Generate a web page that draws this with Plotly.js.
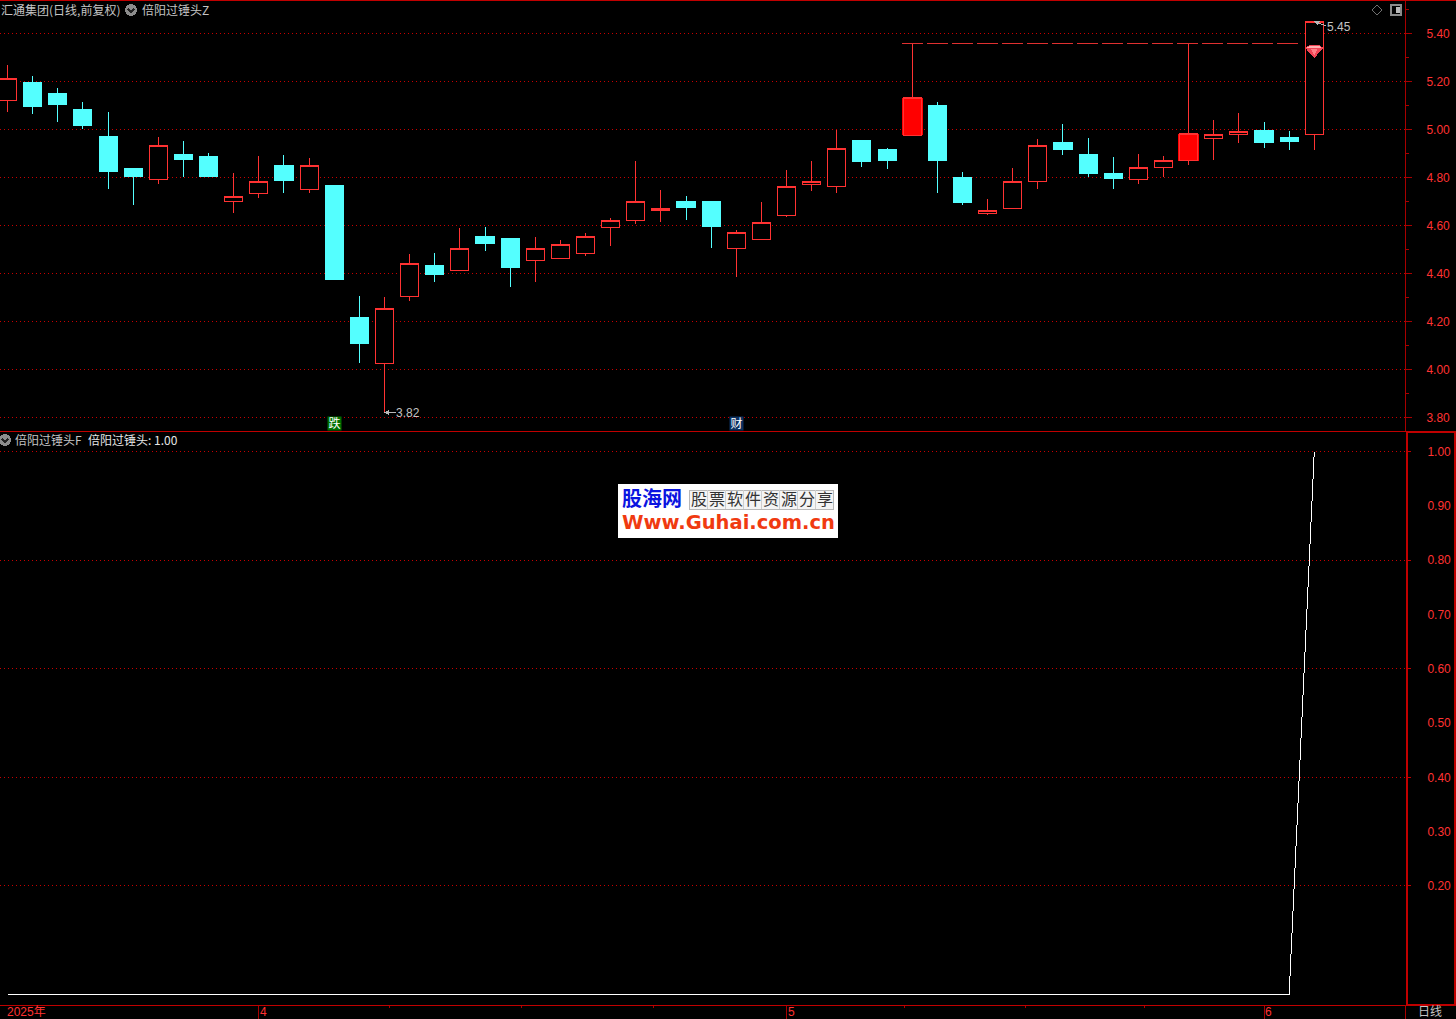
<!DOCTYPE html>
<html><head><meta charset="utf-8">
<script src="https://cdn.plot.ly/plotly-3.0.1.min.js"></script>
<style>html,body{margin:0;padding:0;background:#000;overflow:hidden}
.main-svg path{shape-rendering:crispEdges}
#chart{width:1456px;height:1019px}</style></head>
<body><div id="chart"></div>
<script>
const candleOpen=[5.121,5.193,5.151,5.081,4.972,4.835,4.792,4.893,4.885,4.70,4.733,4.851,4.75,4.764,4.214,4.025,4.304,4.434,4.412,4.555,4.543,4.454,4.462,4.483,4.591,4.621,4.662,4.701,4.701,4.504,4.541,4.642,4.770,4.761,4.952,4.914,4.976,5.101,4.801,4.649,4.670,4.782,4.943,4.893,4.814,4.790,4.840,4.868,4.9625,4.979,4.993,4.964,4.979];
const candleHigh=[5.268,5.222,5.172,5.114,5.072,4.835,4.968,4.951,4.901,4.818,4.889,4.893,4.881,4.764,4.305,4.301,4.48,4.484,4.589,4.593,4.543,4.551,4.539,4.568,4.63,4.868,4.747,4.722,4.701,4.58,4.697,4.831,4.868,4.997,4.952,4.922,5.358,5.114,4.822,4.710,4.839,4.960,5.022,4.964,4.885,4.897,4.889,5.358,5.039,5.068,5.031,4.993,5.45];
const candleLow=[5.074,5.065,5.032,5.003,4.753,4.686,4.774,4.803,4.803,4.653,4.715,4.736,4.736,4.373,4.028,3.82,4.286,4.365,4.412,4.494,4.344,4.365,4.462,4.473,4.514,4.607,4.615,4.623,4.507,4.386,4.541,4.636,4.745,4.736,4.843,4.835,4.976,4.736,4.685,4.645,4.670,4.753,4.893,4.803,4.751,4.772,4.801,4.851,4.872,4.943,4.922,4.914,4.914];
const candleClose=[5.213,5.094,5.103,5.015,4.824,4.803,4.933,4.874,4.803,4.721,4.783,4.786,4.85,4.373,4.107,4.254,4.441,4.394,4.504,4.523,4.423,4.504,4.521,4.554,4.621,4.70,4.671,4.673,4.594,4.571,4.612,4.763,4.783,4.921,4.864,4.872,5.131,4.872,4.693,4.663,4.783,4.933,4.914,4.814,4.793,4.842,4.871,4.981,4.979,4.992,4.943,4.951,5.45];
const filledCandles=[36,47];
const signalValues=[0,0,0,0,0,0,0,0,0,0,0,0,0,0,0,0,0,0,0,0,0,0,0,0,0,0,0,0,0,0,0,0,0,0,0,0,0,0,0,0,0,0,0,0,0,0,0,0,0,0,0,0,1];
const priceTicks=[3.8,4.0,4.2,4.4,4.6,4.8,5.0,5.2,5.4];
const priceTickText=['3.80','4.00','4.20','4.40','4.60','4.80','5.00','5.20','5.40'];
const signalTicks=[0.2,0.3,0.4,0.5,0.6,0.7,0.8,0.9,1.0];
const signalTickText=['0.20','0.30','0.40','0.50','0.60','0.70','0.80','0.90','1.00'];
const signalGridTicks=[0.2,0.4,0.6,0.8,1.0];
const monthTicks=[10,31,50];
const monthLabels=[[0,'2025年'],[10,'4'],[31,'5'],[50,'6']];
const weekTicks=[15.19,20.44,25.7,35.7,40.5,45.26];
const dashLevel=5.358, dashFrom=35.58, dashTo=51.44;
const gemIndex=52, gemPrice=5.326;

const W=1456,H=1019,AX=1405;
const px=x=>x/W, py=y=>1-y/H;
const RED='#ff3232',CYAN='#54ffff',DARK='#a80000',GRID='#c80000',TXT='#c4c4c4';
const FONT='Liberation Sans, sans-serif', CJK='"Noto Sans CJK SC", sans-serif', MIX='"Liberation Sans", "Noto Sans CJK SC", sans-serif';
const xs=candleOpen.map((_,i)=>i);
const isFilled=i=>filledCandles.includes(i);
const idx=xs.filter(i=>!isFilled(i));
const pick=(a,ids)=>ids.map(i=>a[i]);

const traces=[
 {type:'candlestick',xaxis:'x',yaxis:'y',x:idx,open:pick(candleOpen,idx),high:pick(candleHigh,idx),low:pick(candleLow,idx),close:pick(candleClose,idx),
  increasing:{line:{color:RED,width:1},fillcolor:'#000'},decreasing:{line:{color:CYAN,width:1},fillcolor:CYAN},whiskerwidth:0,hoverinfo:'skip',showlegend:false},
 {type:'bar',xaxis:'x',yaxis:'y',x:filledCandles,base:pick(candleOpen,filledCandles),y:filledCandles.map(i=>candleClose[i]-candleOpen[i]),width:0.84,marker:{color:'#ff0000',line:{width:0}},hoverinfo:'skip',showlegend:false},
 {type:'candlestick',xaxis:'x',yaxis:'y',x:filledCandles,open:pick(candleOpen,filledCandles),high:pick(candleHigh,filledCandles),low:pick(candleLow,filledCandles),close:pick(candleClose,filledCandles),
  increasing:{line:{color:RED,width:1},fillcolor:'#ff0000'},decreasing:{line:{color:RED,width:1},fillcolor:'#ff0000'},whiskerwidth:0,hoverinfo:'skip',showlegend:false},
 {type:'scatter',mode:'lines',xaxis:'x',yaxis:'y',x:[dashFrom,dashTo],y:[dashLevel,dashLevel],line:{color:'#e03030',width:1,dash:'21px,4px'},hoverinfo:'skip',showlegend:false},
 {type:'scatter',mode:'lines',xaxis:'x2',yaxis:'y3',x:xs,y:signalValues,line:{color:'rgba(0,0,0,0)',width:0},hoverinfo:'skip',showlegend:false},
 {type:'scatter',mode:'lines',xaxis:'x2',yaxis:'y2',x:xs,y:signalValues,line:{color:'#ffffff',width:1},hoverinfo:'skip',showlegend:false}
];

function pxLine(x0,y0,x1,y1,c,w){return {type:'line',xref:'paper',yref:'paper',x0:px(x0),y0:py(y0),x1:px(x1),y1:py(y1),line:{color:c,width:w||1},layer:'above'};}
function pxRect(x0,y0,x1,y1,fill,c,w){return {type:'rect',xref:'paper',yref:'paper',x0:px(x0),y0:py(y0),x1:px(x1),y1:py(y1),fillcolor:fill,line:{color:c||fill,width:w===undefined?0:w},layer:'above'};}
function pxCircle(cx,cy,r,fill){return {type:'circle',xref:'paper',yref:'paper',x0:px(cx-r),x1:px(cx+r),y0:py(cy-r),y1:py(cy+r),fillcolor:fill,line:{width:0},layer:'above'};}
function chevron(cx,cy){return {type:'path',xref:'paper',yref:'paper',path:`M${px(cx-3)},${py(cy-1)}L${px(cx)},${py(cy+2)}L${px(cx+3)},${py(cy-1)}`,line:{color:'#222',width:1.5},layer:'above'};}
function gem(path,fill){return {type:'path',xref:'x',yref:'y',xsizemode:'pixel',ysizemode:'pixel',xanchor:gemIndex,yanchor:gemPrice,path,fillcolor:fill,line:{width:0},layer:'above'};}

const xRange=[-0.30,55.61];
const signalRange=[-(1005-994.5)/542.8,1+(451.7-432)/542.8];
const shapes=[
 pxLine(0,0.5,W,0.5,'#c00000'),
 pxLine(0,431.5,W,431.5,'#c00000'),
 pxLine(AX+0.5,1005,AX+0.5,H,DARK),
 pxRect(1406.5,432,1455,1005,'rgba(0,0,0,0)','#c00000',2),
 pxCircle(131,10,6,'#8c8c8c'),chevron(131,10),
 pxCircle(5,440,6,'#8c8c8c'),chevron(5,440),
 {type:'path',xref:'paper',yref:'paper',path:`M${px(1372)},${py(10)}L${px(1377)},${py(5)}L${px(1382)},${py(10)}L${px(1377)},${py(15)}Z`,line:{color:'#707070',width:1},layer:'above'},
 pxRect(1391,5,1401,15,'#000','#8a8a8a',2),
 pxRect(1396,7,1400,13,'#b8b8b8'),
 gem('M -9,3 L -5,6 L 5,6 L 9,3 L 0,-7 Z','#f04455'),
 gem('M -8,3 L -5,5 L 5,5 L 8,3 Z','#ffb0b0'),
 gem('M -3,2 L 3,2 L 0,-4 Z','#ff8088'),
 pxRect(618,484,838,538,'#ffffff'),
 pxRect(689,490,833,509,'#f4f4f4','#b8b8b8',1)
];
const wmChars='股票软件资源分享'.split('');
wmChars.forEach((c,i)=>{ if(i) shapes.push(pxLine(689+18*i,490,689+18*i,509,'#cfcfcf')); });

function txt(text,x,y,color,size,family,extra){return Object.assign({xref:'paper',yref:'paper',x:px(x),y:py(y),text,showarrow:false,xanchor:'left',yanchor:'middle',font:{family:family||CJK,size:size||12,color:color||TXT},borderpad:0},extra||{});}
const annotations=[
 txt('汇通集团(日线,前复权)',0,9.5),
 txt('倍阳过锤头Z',141,9.5),
 txt('倍阳过锤头F',14,439.5),
 txt('倍阳过锤头: 1.00',87,439.5,'#e6e6e6'),
 txt('日线',1417,1012,TXT,12,MIX),
 txt('<b>股海网</b>',621,499,'#0a14e0',20,MIX),
 txt('<b>Www.Guhai.com.cn</b>',621,522,'#f03a10',19.5,'DejaVu Sans, sans-serif'),
 {xref:'x',yref:'y',x:15,y:3.82,ax:13,ay:0,text:'',showarrow:true,arrowcolor:'#b8b8b8',arrowwidth:1,arrowhead:2,arrowsize:1},
 {xref:'x',yref:'y',x:15,y:3.82,xshift:10,text:'3.82',showarrow:false,xanchor:'left',yanchor:'middle',font:{family:FONT,size:12,color:TXT}},
 {xref:'x',yref:'y',x:52,y:5.45,ax:13,ay:5,text:'',showarrow:true,arrowcolor:'#b8b8b8',arrowwidth:1,arrowhead:2,arrowsize:1},
 {xref:'x',yref:'y',x:52,y:5.45,xshift:11,yshift:-6,text:'5.45',showarrow:false,xanchor:'left',yanchor:'middle',font:{family:FONT,size:12,color:TXT}},
 {xref:'x',yref:'y',x:13,y:3.773,text:'跌',showarrow:false,bgcolor:'#006f00',width:13,height:13,borderpad:0,font:{family:MIX,size:12,color:'#fff'}},
 {xref:'x',yref:'y',x:29,y:3.773,text:'财',showarrow:false,bgcolor:'#0c3060',width:13,height:13,borderpad:0,font:{family:MIX,size:12,color:'#fff'}}
];
wmChars.forEach((c,i)=>annotations.push(txt(c,690+18*i,499.5,'#333',16,MIX)));
monthLabels.forEach(m=>annotations.push({xref:'x2',yref:'paper',x:m[0],y:py(1012),text:m[1],showarrow:false,xanchor:'left',yanchor:'middle',xshift:m[0]?0:-2,font:{family:MIX,size:12,color:RED},borderpad:0}));

const layout={
 width:W,height:H,margin:{l:0,r:0,t:0,b:0},paper_bgcolor:'#000',plot_bgcolor:'#000',showlegend:false,
 boxgap:0.28,boxgroupgap:0,barmode:'overlay',dragmode:false,hovermode:false,
 xaxis:{domain:[0,AX/W],range:xRange,anchor:'y',visible:false,rangeslider:{visible:false},type:'linear'},
 xaxis2:{domain:[0,AX/W],range:xRange,anchor:'y2',type:'linear',showgrid:false,zeroline:false,showline:true,linecolor:'#c00000',linewidth:1,
  ticks:'outside',tickmode:'array',tickvals:monthTicks,ticktext:['','',''],ticklen:14,tickcolor:DARK,tickwidth:1,
  minor:{ticks:'outside',tickmode:'array',tickvals:weekTicks,ticklen:2,tickcolor:DARK,tickwidth:1,showgrid:false},rangeslider:{visible:false}},
 yaxis:{domain:[py(431),py(1)],range:[5.4-(431-33.3)/240,5.4+(33.3-1)/240],anchor:'x',side:'right',showline:true,linecolor:DARK,linewidth:1,zeroline:false,
  tickmode:'array',tickvals:priceTicks,ticktext:priceTickText,ticks:'outside',ticklen:6,tickcolor:DARK,tickwidth:1,ticklabelstandoff:12,
  tickfont:{family:FONT,size:12,color:RED},showgrid:true,gridcolor:GRID,gridwidth:1,griddash:'1px,3px',
  minor:{ticks:'outside',dtick:0.1,ticklen:3,tickcolor:DARK,tickwidth:1,showgrid:false}},
 yaxis2:{domain:[py(1005),py(432)],range:signalRange,anchor:'x2',side:'right',showline:false,zeroline:false,
  tickmode:'array',tickvals:signalTicks,ticktext:signalTickText,ticks:'outside',ticklen:2,tickcolor:'#c00000',tickwidth:1,ticklabelstandoff:17,
  tickfont:{family:FONT,size:12,color:RED},showgrid:false},
 yaxis3:{domain:[py(1005),py(432)],range:signalRange,anchor:'x2',overlaying:'y2',side:'right',showline:false,zeroline:false,
  tickmode:'array',tickvals:signalGridTicks,ticktext:signalGridTicks.map(()=>''),showticklabels:false,ticks:'outside',ticklen:5,tickcolor:'#c00000',tickwidth:1,
  showgrid:true,gridcolor:GRID,gridwidth:1,griddash:'1px,3px'},
 shapes,annotations
};
Plotly.newPlot('chart',traces,layout,{displayModeBar:false,staticPlot:true});
</script></body></html>
